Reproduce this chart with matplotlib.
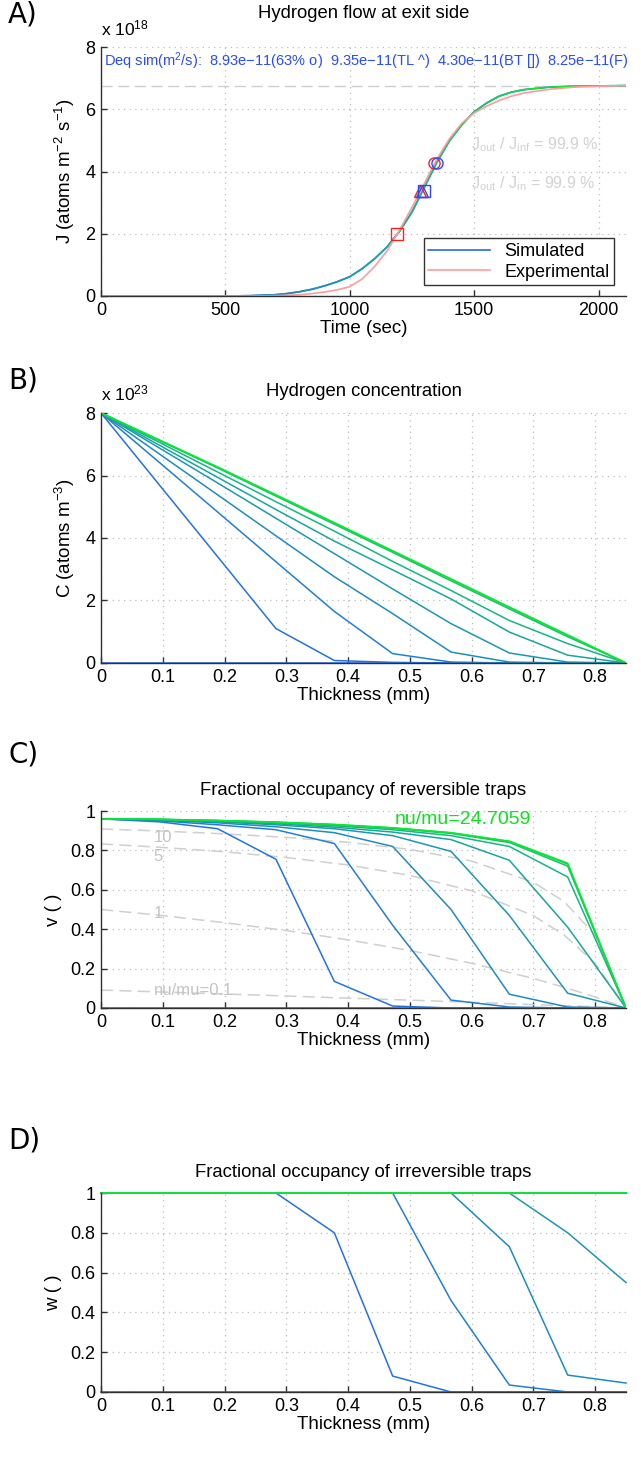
import matplotlib

matplotlib.use("Agg")
import matplotlib.pyplot as plt
from matplotlib import ticker
from matplotlib.collections import LineCollection
from matplotlib.colors import LinearSegmentedColormap
import numpy as np

plt.rcParams["font.family"] = ["Liberation Sans", "DejaVu Sans"]
plt.rcParams["mathtext.fontset"] = "custom"
plt.rcParams["mathtext.rm"] = "Liberation Sans"
plt.rcParams["mathtext.it"] = "Liberation Sans:italic"
plt.rcParams["mathtext.default"] = "regular"

# ---- A) exit flux, in units of 1e18 atoms m-2 s-1
t_sim = [0, 500, 600, 700, 750, 800, 850, 900, 950, 1000, 1050, 1100, 1150, 1200,
         1250, 1300, 1350, 1400, 1450, 1500, 1550, 1600, 1650, 1700, 1800, 1900,
         2000, 2110]
J_sim = [0, 0.0, 0.01, 0.04, 0.08, 0.14, 0.22, 0.33, 0.46, 0.62, 0.88, 1.2, 1.58,
         2.08, 2.7, 3.5, 4.3, 4.98, 5.5, 5.92, 6.2, 6.42, 6.55, 6.63, 6.71, 6.74,
         6.75, 6.76]
t_exp = [0, 600, 700, 800, 850, 900, 950, 1000, 1050, 1100, 1150, 1200, 1250, 1300,
         1350, 1400, 1450, 1500, 1550, 1600, 1650, 1700, 1800, 1900, 2000, 2110]
J_exp = [0, 0.0, 0.01, 0.04, 0.08, 0.13, 0.2, 0.3, 0.55, 0.95, 1.45, 2.12, 2.85,
         3.62, 4.4, 5.05, 5.55, 5.88, 6.1, 6.28, 6.42, 6.52, 6.64, 6.71, 6.74, 6.76]
J_inf = 6.76
# characteristic points: 63% (o), time lag (^), breakthrough ([])
exp_pts_t = [1340, 1283, 1190]
exp_pts_J = [4.27, 3.38, 2.0]
sim_pts_t = [1352, 1290, 1298]
sim_pts_J = [4.27, 3.38, 3.38]
pt_markers = ["o", "^", "s"]
deq_text = ("Deq sim(m$^2$/s):  8.93e\u221211(63% o)  9.35e\u221211(TL ^)  "
            "4.30e\u221211(BT [])  8.25e\u221211(F)")

# ---- profiles across the membrane thickness (mm)
x_nodes = [0, 0.0944, 0.1889, 0.2833, 0.3778, 0.4722, 0.5667, 0.6611, 0.7556, 0.85]

# B) hydrogen concentration, units of 1e23 atoms m-3
conc = [
    [0, 0, 0, 0, 0, 0, 0, 0, 0, 0],
    [8, 5.7, 3.4, 1.1, 0.08, 0.02, 0, 0, 0, 0],
    [8, 6.42, 4.83, 3.24, 1.65, 0.3, 0.03, 0, 0, 0],
    [8, 6.69, 5.38, 4.07, 2.76, 1.58, 0.35, 0.03, 0, 0],
    [8, 6.88, 5.76, 4.63, 3.5, 2.37, 1.26, 0.32, 0.03, 0],
    [8, 6.97, 5.94, 4.91, 3.9, 2.98, 2.05, 0.99, 0.25, 0],
    [8, 7.06, 6.11, 5.16, 4.22, 3.25, 2.32, 1.36, 0.62, 0],
    [8, 7.12, 6.24, 5.34, 4.44, 3.54, 2.63, 1.73, 0.84, 0],
    [8, 7.13, 6.26, 5.37, 4.48, 3.58, 2.68, 1.78, 0.88, 0],
    [8, 7.14, 6.27, 5.38, 4.49, 3.59, 2.69, 1.79, 0.9, 0],
]

# C) reversible trap occupancy
v_occ = [
    [0, 0, 0, 0, 0, 0, 0, 0, 0, 0],
    [0.96, 0.945, 0.91, 0.755, 0.135, 0.01, 0, 0, 0, 0],
    [0.96, 0.95, 0.93, 0.905, 0.835, 0.42, 0.04, 0.005, 0, 0],
    [0.96, 0.953, 0.94, 0.92, 0.89, 0.82, 0.5, 0.07, 0.005, 0],
    [0.96, 0.955, 0.945, 0.93, 0.91, 0.875, 0.795, 0.47, 0.075, 0],
    [0.96, 0.956, 0.948, 0.935, 0.918, 0.893, 0.855, 0.75, 0.41, 0],
    [0.96, 0.957, 0.95, 0.94, 0.925, 0.905, 0.875, 0.82, 0.665, 0],
    [0.96, 0.957, 0.951, 0.942, 0.929, 0.912, 0.886, 0.84, 0.72, 0],
    [0.96, 0.958, 0.952, 0.943, 0.931, 0.914, 0.889, 0.845, 0.73, 0],
    [0.96, 0.958, 0.952, 0.944, 0.932, 0.915, 0.89, 0.847, 0.735, 0],
]
# equilibrium curves for several nu/mu ratios
x_eq = [0, 0.1, 0.2, 0.3, 0.4, 0.5, 0.6, 0.7, 0.75, 0.8, 0.85]
v_eq = {
    "10": [0.909, 0.898, 0.884, 0.866, 0.841, 0.805, 0.746, 0.638, 0.540, 0.370, 0],
    "5": [0.833, 0.815, 0.793, 0.764, 0.726, 0.673, 0.595, 0.469, 0.370, 0.227, 0],
    "1": [0.5, 0.469, 0.433, 0.393, 0.346, 0.292, 0.227, 0.150, 0.105, 0.056, 0],
    "nu/mu=0.1": [0.091, 0.081, 0.071, 0.061, 0.050, 0.040, 0.029, 0.017, 0.012,
                  0.006, 0],
}
eq_label_y = {"10": 0.865, "5": 0.77, "1": 0.48, "nu/mu=0.1": 0.088}
ratio_text = "nu/mu=24.7059"

# D) irreversible trap occupancy
w_occ = [
    [0, 0, 0, 0, 0, 0, 0, 0, 0, 0],
    [1, 1, 1, 1, 0.8, 0.08, 0, 0, 0, 0],
    [1, 1, 1, 1, 1, 1, 0.46, 0.035, 0, 0],
    [1, 1, 1, 1, 1, 1, 1, 0.73, 0.085, 0.045],
    [1, 1, 1, 1, 1, 1, 1, 1, 0.8, 0.55],
    [1, 1, 1, 1, 1, 1, 1, 1, 1, 1],
    [1, 1, 1, 1, 1, 1, 1, 1, 1, 1],
    [1, 1, 1, 1, 1, 1, 1, 1, 1, 1],
    [1, 1, 1, 1, 1, 1, 1, 1, 1, 1],
    [1, 1, 1, 1, 1, 1, 1, 1, 1, 1],
]

blue = (0.15, 0.40, 0.95)
green = (0.05, 0.90, 0.20)
cmap = LinearSegmentedColormap.from_list("bg", [blue, (0.10, 0.62, 0.66), green])
gridc = "#bdbdbd"
eqc = "#cfcfcf"
TICK = 13
LAB = 13.5
TIT = 13.3

W, H = 641, 1471
fig = plt.figure(figsize=(W / 100, H / 100), dpi=100)


def box(top, bottom, left=101, right=626):
    return [left / W, 1 - bottom / H, (right - left) / W, (bottom - top) / H]


def style(ax):
    for s in ("top", "right"):
        ax.spines[s].set_visible(False)
    for s in ("left", "bottom"):
        ax.spines[s].set_color("#303030")
        ax.spines[s].set_linewidth(1.0)
    ax.tick_params(direction="in", length=4, width=1, color="#303030",
                   labelsize=TICK, pad=4)
    ax.grid(True, color=gridc, linestyle=(0, (1, 3.5)), linewidth=0.9)
    ax.set_axisbelow(True)
    ax.xaxis.set_major_formatter(ticker.FuncFormatter(lambda v, p: f"{v:g}"))
    ax.yaxis.set_major_formatter(ticker.FuncFormatter(lambda v, p: f"{v:g}"))


def title(ax, txt, y):
    ax.text(0.5, y, txt, transform=ax.transAxes, ha="center", va="center",
            fontsize=TIT)


def panel(txt, ycenter):
    fig.text(8 / W, 1 - ycenter / H, txt, fontsize=20, ha="left", va="center",
             family="DejaVu Sans")


# ---------------- A
axA = fig.add_axes(box(47, 296))
style(axA)
axA.axhline(J_inf, color=eqc, ls=(0, (8, 4)), lw=1.0)
hs, = axA.plot(t_sim, J_sim, color=blue, lw=1.2, label="Simulated")
pts = np.column_stack([t_sim, J_sim])
segs = np.stack([pts[:-1], pts[1:]], axis=1)
lc = LineCollection(segs, cmap=cmap, norm=plt.Normalize(200, 1800), lw=1.2)
lc.set_array(np.array(t_sim[1:]))
axA.add_collection(lc)
he, = axA.plot(t_exp, J_exp, color="#ff9c9c", lw=1.2, label="Experimental")
for tt, jj, m in zip(exp_pts_t, exp_pts_J, pt_markers):
    axA.plot(tt, jj, m, ms=8, mfc="none", mec="#ff1f1f", mew=1.0)
for tt, jj, m in zip(sim_pts_t, sim_pts_J, pt_markers):
    axA.plot(tt, jj, m, ms=8, mfc="none", mec="#2a4cff", mew=1.0)
axA.text(12, 7.55, deq_text, color="#2a4cff", fontsize=10.5, va="center")
axA.text(1487, 4.85, "J$_{out}$ / J$_{inf}$ = 99.9 %", color="#d2d2d2",
         fontsize=11.5, va="center")
axA.text(1487, 3.62, "J$_{out}$ / J$_{in}$ = 99.9 %", color="#d2d2d2",
         fontsize=11.5, va="center")
axA.set_xlim(0, 2110)
axA.set_ylim(0, 8)
axA.set_xticks([0, 500, 1000, 1500, 2000])
axA.set_yticks([0, 2, 4, 6, 8])
axA.set_xlabel("Time (sec)", fontsize=LAB, labelpad=1)
axA.set_ylabel("J (atoms m$^{-2}$ s$^{-1}$)", fontsize=LAB, labelpad=6)
axA.text(0.0, 1.045, "x 10$^{18}$", transform=axA.transAxes, fontsize=12.5,
         va="baseline", ha="left")
title(axA, "Hydrogen flow at exit side", 1.135)
leg = axA.legend(handles=[hs, he], loc="lower right",
                 bbox_to_anchor=(0.977, 0.044), fontsize=13, fancybox=False,
                 framealpha=1, edgecolor="#333333", handlelength=3.4,
                 borderpad=0.25, labelspacing=0.2, borderaxespad=0)
leg.get_frame().set_linewidth(1.0)
panel("A)", 15)

# ---------------- B
n = len(conc)
axB = fig.add_axes(box(413, 663))
style(axB)
for i, c in enumerate(conc):
    axB.plot(x_nodes, c, color=cmap(i / (n - 1)), lw=1.1)
axB.set_xlim(0, 0.85)
axB.set_ylim(0, 8)
axB.set_xticks(np.arange(0, 0.81, 0.1))
axB.set_yticks([0, 2, 4, 6, 8])
axB.set_xlabel("Thickness (mm)", fontsize=LAB, labelpad=1)
axB.set_ylabel("C (atoms m$^{-3}$)", fontsize=LAB, labelpad=6)
axB.text(0.0, 1.05, "x 10$^{23}$", transform=axB.transAxes, fontsize=12.5,
         va="baseline", ha="left")
title(axB, "Hydrogen concentration", 1.085)
panel("B)", 381)

# ---------------- C
axC = fig.add_axes(box(811, 1008))
style(axC)
for key, vals in v_eq.items():
    axC.plot(x_eq, vals, color=eqc, ls=(0, (8, 4)), lw=1.1)
    axC.text(0.085, eq_label_y[key], key, color="#c4c4c4", fontsize=12,
             va="center")
for i, v in enumerate(v_occ):
    axC.plot(x_nodes, v, color=cmap(i / (n - 1)), lw=1.1)
axC.text(0.476, 0.955, ratio_text, color="#10e020", fontsize=14, va="center")
axC.set_xlim(0, 0.85)
axC.set_ylim(0, 1)
axC.set_xticks(np.arange(0, 0.81, 0.1))
axC.set_yticks([0, 0.2, 0.4, 0.6, 0.8, 1])
axC.set_xlabel("Thickness (mm)", fontsize=LAB, labelpad=1)
axC.set_ylabel("v ( )", fontsize=LAB, labelpad=6)
title(axC, "Fractional occupancy of reversible traps", 1.105)
panel("C)", 755)

# ---------------- D
axD = fig.add_axes(box(1193, 1392))
style(axD)
for i, w in enumerate(w_occ):
    axD.plot(x_nodes, w, color=cmap(i / (n - 1)), lw=1.1, clip_on=False)
axD.set_xlim(0, 0.85)
axD.set_ylim(0, 1)
axD.set_xticks(np.arange(0, 0.81, 0.1))
axD.set_yticks([0, 0.2, 0.4, 0.6, 0.8, 1])
axD.set_xlabel("Thickness (mm)", fontsize=LAB, labelpad=1)
axD.set_ylabel("w ( )", fontsize=LAB, labelpad=6)
title(axD, "Fractional occupancy of irreversible traps", 1.105)
panel("D)", 1140)

fig.savefig("out.png", dpi=100)
